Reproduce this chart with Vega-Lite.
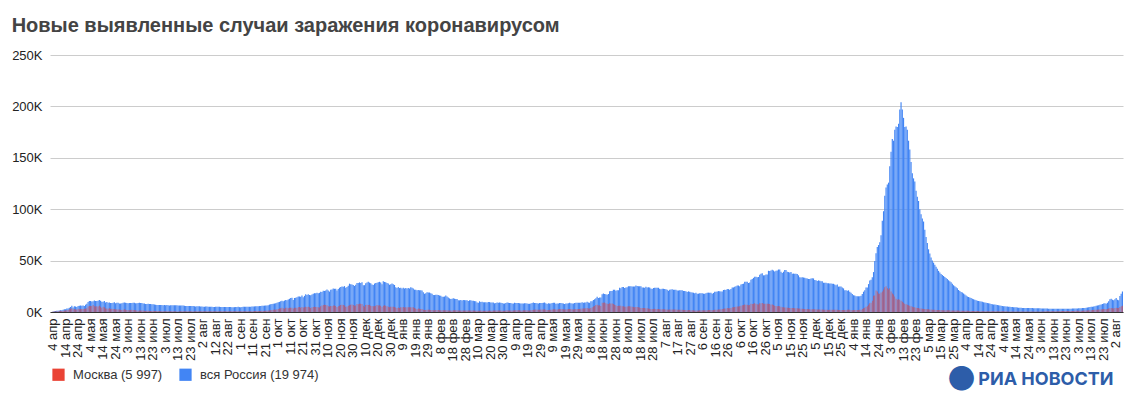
{
  "$schema": "https://vega.github.io/schema/vega-lite/v6.json",
  "width": 1073,
  "height": 257,
  "autosize": {"type": "none"},
  "padding": {"left": 50, "top": 55, "right": 21, "bottom": 93},
  "background": "white",
  "title": {
    "text": "Новые выявленные случаи заражения коронавирусом",
    "anchor": "start",
    "frame": "bounds",
    "offset": 13,
    "font": "Liberation Sans",
    "fontSize": 20,
    "fontWeight": "bold",
    "color": "#444444"
  },
  "data": {"values": [
{"d":"2020-04-04","r":582,"m":434},{"d":"2020-04-05","r":658,"m":387},{"d":"2020-04-06","r":954,"m":591},{"d":"2020-04-07","r":1154,"m":697},{"d":"2020-04-08","r":1175,"m":660},{"d":"2020-04-09","r":1459,"m":857},{"d":"2020-04-10","r":1786,"m":1124},{"d":"2020-04-11","r":1667,"m":1030},{"d":"2020-04-12","r":2186,"m":1306},{"d":"2020-04-13","r":2558,"m":1355},
{"d":"2020-04-14","r":2774,"m":1489},{"d":"2020-04-15","r":3388,"m":1774},{"d":"2020-04-16","r":3448,"m":1959},{"d":"2020-04-17","r":4070,"m":2649},{"d":"2020-04-18","r":4785,"m":3083},{"d":"2020-04-19","r":6060,"m":3570},{"d":"2020-04-20","r":4268,"m":2649},{"d":"2020-04-21","r":5642,"m":2957},{"d":"2020-04-22","r":5236,"m":2502},{"d":"2020-04-23","r":4774,"m":2548},
{"d":"2020-04-24","r":5849,"m":3083},{"d":"2020-04-25","r":5966,"m":2612},{"d":"2020-04-26","r":6361,"m":2860},{"d":"2020-04-27","r":6198,"m":2871},{"d":"2020-04-28","r":6411,"m":2954},{"d":"2020-04-29","r":5841,"m":3040},{"d":"2020-04-30","r":7099,"m":3239},
{"d":"2020-05-01","r":7933,"m":3561},{"d":"2020-05-02","r":9623,"m":5358},{"d":"2020-05-03","r":10633,"m":5948},{"d":"2020-05-04","r":10581,"m":5795},{"d":"2020-05-05","r":10102,"m":5858},{"d":"2020-05-06","r":10559,"m":6703},{"d":"2020-05-07","r":11231,"m":5663},{"d":"2020-05-08","r":10699,"m":5392},{"d":"2020-05-09","r":10817,"m":5667},{"d":"2020-05-10","r":11012,"m":5392},
{"d":"2020-05-11","r":11656,"m":6169},{"d":"2020-05-12","r":10899,"m":5200},{"d":"2020-05-13","r":10028,"m":4035},{"d":"2020-05-14","r":9974,"m":5167},{"d":"2020-05-15","r":10598,"m":4500},{"d":"2020-05-16","r":9200,"m":3500},{"d":"2020-05-17","r":9709,"m":3505},{"d":"2020-05-18","r":8926,"m":3238},{"d":"2020-05-19","r":9263,"m":3560},{"d":"2020-05-20","r":8764,"m":2913},
{"d":"2020-05-21","r":8849,"m":3074},{"d":"2020-05-22","r":8894,"m":2964},{"d":"2020-05-23","r":9434,"m":2988},{"d":"2020-05-24","r":8599,"m":2516},{"d":"2020-05-25","r":8946,"m":2567},{"d":"2020-05-26","r":8915,"m":2500},{"d":"2020-05-27","r":8338,"m":2330},{"d":"2020-05-28","r":8371,"m":2297},{"d":"2020-05-29","r":8572,"m":2054},{"d":"2020-05-30","r":8952,"m":2274},{"d":"2020-05-31","r":9268,"m":2595},
{"d":"2020-06-01","r":9035,"m":2286},{"d":"2020-06-02","r":8863,"m":1991},{"d":"2020-06-03","r":8536,"m":1842},{"d":"2020-06-04","r":8831,"m":1815},{"d":"2020-06-05","r":8726,"m":1979},{"d":"2020-06-06","r":8855,"m":2069},{"d":"2020-06-07","r":8984,"m":2000},{"d":"2020-06-08","r":8985,"m":1951},{"d":"2020-06-09","r":8595,"m":1700},{"d":"2020-06-10","r":8404,"m":1572},
{"d":"2020-06-11","r":8779,"m":1195},{"d":"2020-06-12","r":8987,"m":1486},{"d":"2020-06-13","r":8706,"m":1549},{"d":"2020-06-14","r":8835,"m":1545},{"d":"2020-06-15","r":8246,"m":1359},{"d":"2020-06-16","r":8248,"m":1104},{"d":"2020-06-17","r":7843,"m":1073},{"d":"2020-06-18","r":7790,"m":1154},{"d":"2020-06-19","r":7972,"m":1095},{"d":"2020-06-20","r":7889,"m":1070},
{"d":"2020-06-21","r":7728,"m":1057},{"d":"2020-06-22","r":7600,"m":1063},{"d":"2020-06-23","r":7425,"m":1194},{"d":"2020-06-24","r":7176,"m":1086},{"d":"2020-06-25","r":7113,"m":1083},{"d":"2020-06-26","r":6800,"m":1000},{"d":"2020-06-27","r":6852,"m":1000},{"d":"2020-06-28","r":6791,"m":932},{"d":"2020-06-29","r":6719,"m":814},{"d":"2020-06-30","r":6693,"m":693},
{"d":"2020-07-01","r":6556,"m":672},{"d":"2020-07-02","r":6760,"m":659},{"d":"2020-07-03","r":6632,"m":672},{"d":"2020-07-04","r":6736,"m":660},{"d":"2020-07-05","r":6611,"m":655},{"d":"2020-07-06","r":6368,"m":679},{"d":"2020-07-07","r":6562,"m":662},{"d":"2020-07-08","r":6509,"m":645},{"d":"2020-07-09","r":6635,"m":666},{"d":"2020-07-10","r":6611,"m":651},
{"d":"2020-07-11","r":6615,"m":626},{"d":"2020-07-12","r":6537,"m":606},{"d":"2020-07-13","r":6248,"m":595},{"d":"2020-07-14","r":6422,"m":625},{"d":"2020-07-15","r":6428,"m":636},{"d":"2020-07-16","r":6406,"m":642},{"d":"2020-07-17","r":6234,"m":656},{"d":"2020-07-18","r":6109,"m":648},{"d":"2020-07-19","r":5940,"m":637},{"d":"2020-07-20","r":5842,"m":648},
{"d":"2020-07-21","r":5862,"m":648},{"d":"2020-07-22","r":5848,"m":676},{"d":"2020-07-23","r":5811,"m":642},{"d":"2020-07-24","r":5871,"m":656},{"d":"2020-07-25","r":5765,"m":587},{"d":"2020-07-26","r":5635,"m":641},{"d":"2020-07-27","r":5395,"m":623},{"d":"2020-07-28","r":5475,"m":626},{"d":"2020-07-29","r":5509,"m":625},{"d":"2020-07-30","r":5482,"m":651},{"d":"2020-07-31","r":5462,"m":690},
{"d":"2020-08-01","r":5427,"m":655},{"d":"2020-08-02","r":5159,"m":669},{"d":"2020-08-03","r":5204,"m":692},{"d":"2020-08-04","r":5241,"m":688},{"d":"2020-08-05","r":5267,"m":664},{"d":"2020-08-06","r":5212,"m":697},{"d":"2020-08-07","r":5189,"m":697},{"d":"2020-08-08","r":5118,"m":686},{"d":"2020-08-09","r":5010,"m":681},{"d":"2020-08-10","r":4945,"m":677},
{"d":"2020-08-11","r":4892,"m":657},{"d":"2020-08-12","r":5102,"m":670},{"d":"2020-08-13","r":5065,"m":691},{"d":"2020-08-14","r":5083,"m":690},{"d":"2020-08-15","r":5061,"m":685},{"d":"2020-08-16","r":4969,"m":682},{"d":"2020-08-17","r":4839,"m":662},{"d":"2020-08-18","r":4748,"m":659},{"d":"2020-08-19","r":4828,"m":665},{"d":"2020-08-20","r":4767,"m":657},
{"d":"2020-08-21","r":4870,"m":683},{"d":"2020-08-22","r":4921,"m":681},{"d":"2020-08-23","r":4852,"m":679},{"d":"2020-08-24","r":4744,"m":668},{"d":"2020-08-25","r":4676,"m":661},{"d":"2020-08-26","r":4696,"m":675},{"d":"2020-08-27","r":4711,"m":666},{"d":"2020-08-28","r":4829,"m":647},{"d":"2020-08-29","r":4980,"m":650},{"d":"2020-08-30","r":4993,"m":648},{"d":"2020-08-31","r":4729,"m":648},
{"d":"2020-09-01","r":4729,"m":647},{"d":"2020-09-02","r":4952,"m":717},{"d":"2020-09-03","r":4995,"m":708},{"d":"2020-09-04","r":5110,"m":762},{"d":"2020-09-05","r":5205,"m":782},{"d":"2020-09-06","r":5195,"m":814},{"d":"2020-09-07","r":5185,"m":850},{"d":"2020-09-08","r":5099,"m":750},{"d":"2020-09-09","r":5218,"m":801},{"d":"2020-09-10","r":5363,"m":800},
{"d":"2020-09-11","r":5406,"m":824},{"d":"2020-09-12","r":5449,"m":860},{"d":"2020-09-13","r":5509,"m":880},{"d":"2020-09-14","r":5529,"m":892},{"d":"2020-09-15","r":5670,"m":943},{"d":"2020-09-16","r":5762,"m":1050},{"d":"2020-09-17","r":5905,"m":1050},{"d":"2020-09-18","r":6065,"m":1095},{"d":"2020-09-19","r":6148,"m":1056},{"d":"2020-09-20","r":6196,"m":1100},
{"d":"2020-09-21","r":6215,"m":1200},{"d":"2020-09-22","r":6431,"m":1300},{"d":"2020-09-23","r":6595,"m":1400},{"d":"2020-09-24","r":7212,"m":1560},{"d":"2020-09-25","r":7523,"m":1792},{"d":"2020-09-26","r":7867,"m":2016},{"d":"2020-09-27","r":8135,"m":2217},{"d":"2020-09-28","r":8232,"m":2424},{"d":"2020-09-29","r":8481,"m":2304},{"d":"2020-09-30","r":8945,"m":2704},
{"d":"2020-10-01","r":9412,"m":2884},{"d":"2020-10-02","r":9859,"m":3327},{"d":"2020-10-03","r":10499,"m":3537},{"d":"2020-10-04","r":10888,"m":4082},{"d":"2020-10-05","r":10499,"m":3537},{"d":"2020-10-06","r":11115,"m":3229},{"d":"2020-10-07","r":11615,"m":4087},{"d":"2020-10-08","r":11493,"m":4082},{"d":"2020-10-09","r":12126,"m":3548},{"d":"2020-10-10","r":12846,"m":4127},
{"d":"2020-10-11","r":13634,"m":4212},{"d":"2020-10-12","r":13868,"m":4203},{"d":"2020-10-13","r":11655,"m":3312},{"d":"2020-10-14","r":13592,"m":4103},{"d":"2020-10-15","r":13754,"m":4056},{"d":"2020-10-16","r":14231,"m":4238},{"d":"2020-10-17","r":15150,"m":4617},{"d":"2020-10-18","r":15099,"m":4782},{"d":"2020-10-19","r":14922,"m":4122},{"d":"2020-10-20","r":15982,"m":4922},
{"d":"2020-10-21","r":14321,"m":4389},{"d":"2020-10-22","r":15700,"m":4635},{"d":"2020-10-23","r":17340,"m":5224},{"d":"2020-10-24","r":16521,"m":4849},{"d":"2020-10-25","r":17347,"m":5224},{"d":"2020-10-26","r":16550,"m":4500},{"d":"2020-10-27","r":16202,"m":4000},{"d":"2020-10-28","r":17121,"m":4556},{"d":"2020-10-29","r":17717,"m":4776},{"d":"2020-10-30","r":18283,"m":5224},{"d":"2020-10-31","r":18140,"m":4952},
{"d":"2020-11-01","r":18665,"m":4882},{"d":"2020-11-02","r":18257,"m":4524},{"d":"2020-11-03","r":18648,"m":4453},{"d":"2020-11-04","r":19768,"m":5475},{"d":"2020-11-05","r":19404,"m":6253},{"d":"2020-11-06","r":20582,"m":6718},{"d":"2020-11-07","r":20498,"m":6953},{"d":"2020-11-08","r":20977,"m":6897},{"d":"2020-11-09","r":21798,"m":6499},{"d":"2020-11-10","r":20977,"m":5616},
{"d":"2020-11-11","r":19851,"m":5254},{"d":"2020-11-12","r":21608,"m":5882},{"d":"2020-11-13","r":21983,"m":5902},{"d":"2020-11-14","r":22778,"m":6405},{"d":"2020-11-15","r":22572,"m":6438},{"d":"2020-11-16","r":22702,"m":5804},{"d":"2020-11-17","r":20977,"m":4874},{"d":"2020-11-18","r":22410,"m":5478},{"d":"2020-11-19","r":23610,"m":6076},{"d":"2020-11-20","r":24318,"m":6902},
{"d":"2020-11-21","r":24822,"m":7168},{"d":"2020-11-22","r":24581,"m":6866},{"d":"2020-11-23","r":25173,"m":6368},{"d":"2020-11-24","r":23675,"m":4990},{"d":"2020-11-25","r":24326,"m":5233},{"d":"2020-11-26","r":25487,"m":6081},{"d":"2020-11-27","r":27543,"m":6502},{"d":"2020-11-28","r":27100,"m":6950},{"d":"2020-11-29","r":26683,"m":7317},{"d":"2020-11-30","r":26338,"m":6855},
{"d":"2020-12-01","r":25345,"m":5999},{"d":"2020-12-02","r":26402,"m":6405},{"d":"2020-12-03","r":28145,"m":7750},{"d":"2020-12-04","r":28209,"m":7486},{"d":"2020-12-05","r":28782,"m":7993},{"d":"2020-12-06","r":28137,"m":7993},{"d":"2020-12-07","r":29039,"m":7750},{"d":"2020-12-08","r":26097,"m":5977},{"d":"2020-12-09","r":26097,"m":5000},{"d":"2020-12-10","r":27927,"m":6759},
{"d":"2020-12-11","r":28585,"m":7040},{"d":"2020-12-12","r":29350,"m":6800},{"d":"2020-12-13","r":28585,"m":7040},{"d":"2020-12-14","r":28080,"m":6000},{"d":"2020-12-15","r":26689,"m":5725},{"d":"2020-12-16","r":26190,"m":5550},{"d":"2020-12-17","r":27656,"m":5700},{"d":"2020-12-18","r":28214,"m":6200},{"d":"2020-12-19","r":28552,"m":6800},{"d":"2020-12-20","r":28948,"m":6426},
{"d":"2020-12-21","r":29350,"m":6600},{"d":"2020-12-22","r":28776,"m":6000},{"d":"2020-12-23","r":27040,"m":5000},{"d":"2020-12-24","r":29935,"m":6000},{"d":"2020-12-25","r":29258,"m":6459},{"d":"2020-12-26","r":29018,"m":6000},{"d":"2020-12-27","r":28284,"m":5700},{"d":"2020-12-28","r":27787,"m":5000},{"d":"2020-12-29","r":26513,"m":4700},{"d":"2020-12-30","r":27039,"m":5200},{"d":"2020-12-31","r":27747,"m":5085},
{"d":"2021-01-01","r":27039,"m":5100},{"d":"2021-01-02","r":26301,"m":4900},{"d":"2021-01-03","r":24150,"m":4300},{"d":"2021-01-04","r":23351,"m":4000},{"d":"2021-01-05","r":24246,"m":4400},{"d":"2021-01-06","r":23309,"m":4000},{"d":"2021-01-07","r":23541,"m":4500},{"d":"2021-01-08","r":22851,"m":4500},{"d":"2021-01-09","r":23652,"m":4800},{"d":"2021-01-10","r":22851,"m":4444},
{"d":"2021-01-11","r":23315,"m":4700},{"d":"2021-01-12","r":22934,"m":4500},{"d":"2021-01-13","r":23360,"m":4600},{"d":"2021-01-14","r":22851,"m":4500},{"d":"2021-01-15","r":24092,"m":4667},{"d":"2021-01-16","r":23652,"m":4700},{"d":"2021-01-17","r":22857,"m":4500},{"d":"2021-01-18","r":21734,"m":3900},{"d":"2021-01-19","r":21677,"m":3500},{"d":"2021-01-20","r":21152,"m":2948},
{"d":"2021-01-21","r":21513,"m":3300},{"d":"2021-01-22","r":21127,"m":3050},{"d":"2021-01-23","r":21262,"m":3000},{"d":"2021-01-24","r":20921,"m":2900},{"d":"2021-01-25","r":19290,"m":2200},{"d":"2021-01-26","r":17741,"m":1841},{"d":"2021-01-27","r":18241,"m":2050},{"d":"2021-01-28","r":19138,"m":2200},{"d":"2021-01-29","r":19032,"m":2150},{"d":"2021-01-30","r":18935,"m":2100},{"d":"2021-01-31","r":18359,"m":2029},
{"d":"2021-02-01","r":17648,"m":1900},{"d":"2021-02-02","r":16643,"m":1700},{"d":"2021-02-03","r":16474,"m":1800},{"d":"2021-02-04","r":16688,"m":1900},{"d":"2021-02-05","r":16714,"m":1906},{"d":"2021-02-06","r":16627,"m":1900},{"d":"2021-02-07","r":16048,"m":1800},{"d":"2021-02-08","r":15916,"m":1700},{"d":"2021-02-09","r":14928,"m":1600},{"d":"2021-02-10","r":14861,"m":1736},
{"d":"2021-02-11","r":15038,"m":1700},{"d":"2021-02-12","r":16034,"m":1800},{"d":"2021-02-13","r":15144,"m":1700},{"d":"2021-02-14","r":14185,"m":1500},{"d":"2021-02-15","r":13233,"m":1442},{"d":"2021-02-16","r":12742,"m":1400},{"d":"2021-02-17","r":12828,"m":1500},{"d":"2021-02-18","r":13447,"m":1600},{"d":"2021-02-19","r":12953,"m":1700},{"d":"2021-02-20","r":12742,"m":1729},
{"d":"2021-02-21","r":12604,"m":1650},{"d":"2021-02-22","r":11534,"m":1500},{"d":"2021-02-23","r":11359,"m":1400},{"d":"2021-02-24","r":11749,"m":1500},{"d":"2021-02-25","r":11198,"m":1545},{"d":"2021-02-26","r":11571,"m":1550},{"d":"2021-02-27","r":11534,"m":1560},{"d":"2021-02-28","r":11534,"m":1562},
{"d":"2021-03-01","r":11359,"m":1500},{"d":"2021-03-02","r":10595,"m":1400},{"d":"2021-03-03","r":11385,"m":1500},{"d":"2021-03-04","r":11385,"m":1550},{"d":"2021-03-05","r":11024,"m":1540},{"d":"2021-03-06","r":10824,"m":1500},{"d":"2021-03-07","r":10595,"m":1400},{"d":"2021-03-08","r":10565,"m":1300},{"d":"2021-03-09","r":9270,"m":1250},{"d":"2021-03-10","r":9079,"m":1294},
{"d":"2021-03-11","r":10393,"m":1300},{"d":"2021-03-12","r":9800,"m":1350},{"d":"2021-03-13","r":9900,"m":1300},{"d":"2021-03-14","r":9433,"m":1200},{"d":"2021-03-15","r":9445,"m":1163},{"d":"2021-03-16","r":9437,"m":1200},{"d":"2021-03-17","r":9149,"m":1250},{"d":"2021-03-18","r":9634,"m":1300},{"d":"2021-03-19","r":9632,"m":1350},{"d":"2021-03-20","r":9299,"m":1318},
{"d":"2021-03-21","r":9284,"m":1300},{"d":"2021-03-22","r":9195,"m":1350},{"d":"2021-03-23","r":8457,"m":1400},{"d":"2021-03-24","r":8769,"m":1450},{"d":"2021-03-25","r":9128,"m":1456},{"d":"2021-03-26","r":9073,"m":1450},{"d":"2021-03-27","r":9167,"m":1450},{"d":"2021-03-28","r":8885,"m":1400},{"d":"2021-03-29","r":8711,"m":1300},{"d":"2021-03-30","r":8277,"m":1250},{"d":"2021-03-31","r":8162,"m":1254},
{"d":"2021-04-01","r":8672,"m":1500},{"d":"2021-04-02","r":9167,"m":1600},{"d":"2021-04-03","r":8885,"m":1550},{"d":"2021-04-04","r":8711,"m":1500},{"d":"2021-04-05","r":8646,"m":1578},{"d":"2021-04-06","r":8294,"m":1500},{"d":"2021-04-07","r":8328,"m":1550},{"d":"2021-04-08","r":8996,"m":1700},{"d":"2021-04-09","r":8806,"m":1750},{"d":"2021-04-10","r":8702,"m":1736},
{"d":"2021-04-11","r":8702,"m":1700},{"d":"2021-04-12","r":8589,"m":1650},{"d":"2021-04-13","r":8173,"m":1500},{"d":"2021-04-14","r":8272,"m":1550},{"d":"2021-04-15","r":8173,"m":1597},{"d":"2021-04-16","r":8633,"m":1650},{"d":"2021-04-17","r":8632,"m":1700},{"d":"2021-04-18","r":8328,"m":1600},{"d":"2021-04-19","r":8053,"m":1500},{"d":"2021-04-20","r":8053,"m":1523},
{"d":"2021-04-21","r":8271,"m":1800},{"d":"2021-04-22","r":8780,"m":2000},{"d":"2021-04-23","r":9270,"m":2300},{"d":"2021-04-24","r":8800,"m":2300},{"d":"2021-04-25","r":8803,"m":2323},{"d":"2021-04-26","r":8419,"m":2200},{"d":"2021-04-27","r":8271,"m":2100},{"d":"2021-04-28","r":8780,"m":2300},{"d":"2021-04-29","r":8697,"m":2400},{"d":"2021-04-30","r":8697,"m":2412},
{"d":"2021-05-01","r":8995,"m":2500},{"d":"2021-05-02","r":9270,"m":2600},{"d":"2021-05-03","r":8419,"m":2200},{"d":"2021-05-04","r":7770,"m":1900},{"d":"2021-05-05","r":8419,"m":2051},{"d":"2021-05-06","r":8307,"m":2100},{"d":"2021-05-07","r":8328,"m":2200},{"d":"2021-05-08","r":8790,"m":2500},{"d":"2021-05-09","r":9000,"m":2600},{"d":"2021-05-10","r":8926,"m":2717},
{"d":"2021-05-11","r":7975,"m":2400},{"d":"2021-05-12","r":8217,"m":2500},{"d":"2021-05-13","r":8380,"m":2600},{"d":"2021-05-14","r":8709,"m":2800},{"d":"2021-05-15","r":8709,"m":2897},{"d":"2021-05-16","r":8554,"m":2900},{"d":"2021-05-17","r":8183,"m":2700},{"d":"2021-05-18","r":7704,"m":2500},{"d":"2021-05-19","r":8217,"m":2600},{"d":"2021-05-20","r":8217,"m":2726},
{"d":"2021-05-21","r":8407,"m":2800},{"d":"2021-05-22","r":8951,"m":2900},{"d":"2021-05-23","r":8632,"m":2800},{"d":"2021-05-24","r":8373,"m":2600},{"d":"2021-05-25","r":8373,"m":2549},{"d":"2021-05-26","r":8780,"m":2700},{"d":"2021-05-27","r":8947,"m":2800},{"d":"2021-05-28","r":9022,"m":2900},{"d":"2021-05-29","r":8980,"m":2900},{"d":"2021-05-30","r":9035,"m":3000},{"d":"2021-05-31","r":9035,"m":3205},
{"d":"2021-06-01","r":9371,"m":3400},{"d":"2021-06-02","r":9036,"m":3300},{"d":"2021-06-03","r":9252,"m":3400},{"d":"2021-06-04","r":9289,"m":3700},{"d":"2021-06-05","r":9924,"m":3800},{"d":"2021-06-06","r":9200,"m":3500},{"d":"2021-06-07","r":8949,"m":3400},{"d":"2021-06-08","r":10407,"m":3800},{"d":"2021-06-09","r":10407,"m":4500},{"d":"2021-06-10","r":11699,"m":5255},
{"d":"2021-06-11","r":12505,"m":5792},{"d":"2021-06-12","r":13397,"m":6701},{"d":"2021-06-13","r":14723,"m":7140},{"d":"2021-06-14","r":13721,"m":6206},{"d":"2021-06-15","r":14185,"m":6534},{"d":"2021-06-16","r":14057,"m":5782},{"d":"2021-06-17","r":17262,"m":8965},{"d":"2021-06-18","r":17906,"m":9056},{"d":"2021-06-19","r":17611,"m":9120},{"d":"2021-06-20","r":17378,"m":8403},
{"d":"2021-06-21","r":16715,"m":7917},{"d":"2021-06-22","r":17594,"m":7719},{"d":"2021-06-23","r":20182,"m":8427},{"d":"2021-06-24","r":20393,"m":8365},{"d":"2021-06-25","r":20538,"m":8227},{"d":"2021-06-26","r":21665,"m":7730},{"d":"2021-06-27","r":21650,"m":6935},{"d":"2021-06-28","r":20616,"m":6534},{"d":"2021-06-29","r":21042,"m":5911},{"d":"2021-06-30","r":21042,"m":6000},
{"d":"2021-07-01","r":23543,"m":6100},{"d":"2021-07-02","r":23218,"m":6100},{"d":"2021-07-03","r":24439,"m":5700},{"d":"2021-07-04","r":24353,"m":5600},{"d":"2021-07-05","r":23378,"m":5200},{"d":"2021-07-06","r":23778,"m":5200},{"d":"2021-07-07","r":23962,"m":5400},{"d":"2021-07-08","r":25082,"m":5600},{"d":"2021-07-09","r":25142,"m":5500},{"d":"2021-07-10","r":25033,"m":5292},
{"d":"2021-07-11","r":24702,"m":5000},{"d":"2021-07-12","r":24702,"m":4800},{"d":"2021-07-13","r":24702,"m":4600},{"d":"2021-07-14","r":25766,"m":4800},{"d":"2021-07-15","r":25293,"m":4781},{"d":"2021-07-16","r":25018,"m":4500},{"d":"2021-07-17","r":25108,"m":4300},{"d":"2021-07-18","r":24933,"m":4000},{"d":"2021-07-19","r":23811,"m":3800},{"d":"2021-07-20","r":23811,"m":3852},
{"d":"2021-07-21","r":23704,"m":3800},{"d":"2021-07-22","r":24471,"m":3700},{"d":"2021-07-23","r":23947,"m":3600},{"d":"2021-07-24","r":24072,"m":3400},{"d":"2021-07-25","r":23947,"m":3215},{"d":"2021-07-26","r":22804,"m":3000},{"d":"2021-07-27","r":22420,"m":2900},{"d":"2021-07-28","r":23270,"m":3000},{"d":"2021-07-29","r":23564,"m":3100},{"d":"2021-07-30","r":23564,"m":3000},{"d":"2021-07-31","r":23564,"m":3002},
{"d":"2021-08-01","r":23508,"m":2900},{"d":"2021-08-02","r":22589,"m":2700},{"d":"2021-08-03","r":22239,"m":2600},{"d":"2021-08-04","r":22589,"m":2700},{"d":"2021-08-05","r":22589,"m":2666},{"d":"2021-08-06","r":22277,"m":2600},{"d":"2021-08-07","r":22144,"m":2500},{"d":"2021-08-08","r":21624,"m":2400},{"d":"2021-08-09","r":20765,"m":2300},{"d":"2021-08-10","r":21571,"m":2313},
{"d":"2021-08-11","r":21932,"m":2400},{"d":"2021-08-12","r":22073,"m":2400},{"d":"2021-08-13","r":21624,"m":2400},{"d":"2021-08-14","r":21624,"m":2400},{"d":"2021-08-15","r":21624,"m":2402},{"d":"2021-08-16","r":20992,"m":2200},{"d":"2021-08-17","r":20914,"m":2100},{"d":"2021-08-18","r":21058,"m":2200},{"d":"2021-08-19","r":21058,"m":2150},{"d":"2021-08-20","r":21058,"m":2148},
{"d":"2021-08-21","r":20493,"m":2050},{"d":"2021-08-22","r":20493,"m":2000},{"d":"2021-08-23","r":20084,"m":1900},{"d":"2021-08-24","r":19509,"m":1800},{"d":"2021-08-25","r":20084,"m":1947},{"d":"2021-08-26","r":19630,"m":1900},{"d":"2021-08-27","r":19286,"m":1800},{"d":"2021-08-28","r":18856,"m":1700},{"d":"2021-08-29","r":18780,"m":1650},{"d":"2021-08-30","r":18325,"m":1550},{"d":"2021-08-31","r":18780,"m":1543},
{"d":"2021-09-01","r":17813,"m":1500},{"d":"2021-09-02","r":17856,"m":1550},{"d":"2021-09-03","r":18341,"m":1650},{"d":"2021-09-04","r":18341,"m":1700},{"d":"2021-09-05","r":18341,"m":1751},{"d":"2021-09-06","r":17856,"m":1650},{"d":"2021-09-07","r":17813,"m":1600},{"d":"2021-09-08","r":18191,"m":1700},{"d":"2021-09-09","r":18645,"m":1800},{"d":"2021-09-10","r":18841,"m":1878},
{"d":"2021-09-11","r":18841,"m":1900},{"d":"2021-09-12","r":18841,"m":1900},{"d":"2021-09-13","r":17837,"m":1800},{"d":"2021-09-14","r":18554,"m":1950},{"d":"2021-09-15","r":19594,"m":2111},{"d":"2021-09-16","r":19706,"m":2200},{"d":"2021-09-17","r":19905,"m":2300},{"d":"2021-09-18","r":20329,"m":2400},{"d":"2021-09-19","r":20174,"m":2500},{"d":"2021-09-20","r":19966,"m":2584},
{"d":"2021-09-21","r":19960,"m":2800},{"d":"2021-09-22","r":21379,"m":3200},{"d":"2021-09-23","r":21559,"m":3300},{"d":"2021-09-24","r":21438,"m":3500},{"d":"2021-09-25","r":22430,"m":3775},{"d":"2021-09-26","r":22236,"m":3600},{"d":"2021-09-27","r":21650,"m":3600},{"d":"2021-09-28","r":22430,"m":4000},{"d":"2021-09-29","r":23888,"m":4500},{"d":"2021-09-30","r":23888,"m":4590},
{"d":"2021-10-01","r":24522,"m":4900},{"d":"2021-10-02","r":25110,"m":5100},{"d":"2021-10-03","r":25781,"m":5300},{"d":"2021-10-04","r":25781,"m":5400},{"d":"2021-10-05","r":25133,"m":5473},{"d":"2021-10-06","r":26828,"m":6000},{"d":"2021-10-07","r":27246,"m":6500},{"d":"2021-10-08","r":27550,"m":6900},{"d":"2021-10-09","r":29362,"m":7300},{"d":"2021-10-10","r":29409,"m":7042},
{"d":"2021-10-11","r":29409,"m":7000},{"d":"2021-10-12","r":28190,"m":6500},{"d":"2021-10-13","r":28717,"m":6900},{"d":"2021-10-14","r":31299,"m":8000},{"d":"2021-10-15","r":32196,"m":7900},{"d":"2021-10-16","r":33208,"m":8000},{"d":"2021-10-17","r":34303,"m":8500},{"d":"2021-10-18","r":34325,"m":8000},{"d":"2021-10-19","r":33740,"m":7500},{"d":"2021-10-20","r":34073,"m":7225},
{"d":"2021-10-21","r":36339,"m":8400},{"d":"2021-10-22","r":37141,"m":8600},{"d":"2021-10-23","r":37678,"m":8700},{"d":"2021-10-24","r":35660,"m":8100},{"d":"2021-10-25","r":35660,"m":8117},{"d":"2021-10-26","r":36582,"m":8000},{"d":"2021-10-27","r":36446,"m":8000},{"d":"2021-10-28","r":40096,"m":8100},{"d":"2021-10-29","r":39849,"m":7900},{"d":"2021-10-30","r":40251,"m":7200},{"d":"2021-10-31","r":40993,"m":7209},
{"d":"2021-11-01","r":40402,"m":6700},{"d":"2021-11-02","r":39400,"m":6200},{"d":"2021-11-03","r":40217,"m":5800},{"d":"2021-11-04","r":40443,"m":5700},{"d":"2021-11-05","r":41335,"m":5753},{"d":"2021-11-06","r":41335,"m":5500},{"d":"2021-11-07","r":39165,"m":5000},{"d":"2021-11-08","r":38058,"m":4700},{"d":"2021-11-09","r":39160,"m":4500},{"d":"2021-11-10","r":40759,"m":4391},
{"d":"2021-11-11","r":40759,"m":4400},{"d":"2021-11-12","r":39256,"m":4200},{"d":"2021-11-13","r":38823,"m":4100},{"d":"2021-11-14","r":38420,"m":4000},{"d":"2021-11-15","r":38823,"m":3940},{"d":"2021-11-16","r":37120,"m":3800},{"d":"2021-11-17","r":37374,"m":3800},{"d":"2021-11-18","r":37156,"m":3750},{"d":"2021-11-19","r":37120,"m":3700},{"d":"2021-11-20","r":36970,"m":3648},
{"d":"2021-11-21","r":35681,"m":3500},{"d":"2021-11-22","r":33860,"m":3300},{"d":"2021-11-23","r":33558,"m":3200},{"d":"2021-11-24","r":33796,"m":3100},{"d":"2021-11-25","r":33558,"m":2992},{"d":"2021-11-26","r":33389,"m":2950},{"d":"2021-11-27","r":32930,"m":2900},{"d":"2021-11-28","r":32648,"m":2800},{"d":"2021-11-29","r":32136,"m":2700},{"d":"2021-11-30","r":32136,"m":2667},
{"d":"2021-12-01","r":32602,"m":2700},{"d":"2021-12-02","r":32930,"m":2750},{"d":"2021-12-03","r":32648,"m":2700},{"d":"2021-12-04","r":31096,"m":2650},{"d":"2021-12-05","r":30950,"m":2623},{"d":"2021-12-06","r":30209,"m":2500},{"d":"2021-12-07","r":30752,"m":2500},{"d":"2021-12-08","r":30288,"m":2450},{"d":"2021-12-09","r":29929,"m":2400},{"d":"2021-12-10","r":29929,"m":2328},
{"d":"2021-12-11","r":28486,"m":2300},{"d":"2021-12-12","r":28486,"m":2300},{"d":"2021-12-13","r":28363,"m":2200},{"d":"2021-12-14","r":27967,"m":2100},{"d":"2021-12-15","r":27967,"m":2061},{"d":"2021-12-16","r":27743,"m":2100},{"d":"2021-12-17","r":27743,"m":2150},{"d":"2021-12-18","r":27523,"m":2200},{"d":"2021-12-19","r":27434,"m":2200},{"d":"2021-12-20","r":26689,"m":2167},
{"d":"2021-12-21","r":25908,"m":2100},{"d":"2021-12-22","r":26689,"m":2100},{"d":"2021-12-23","r":24703,"m":2000},{"d":"2021-12-24","r":24703,"m":1950},{"d":"2021-12-25","r":24703,"m":1943},{"d":"2021-12-26","r":23820,"m":1950},{"d":"2021-12-27","r":22972,"m":1900},{"d":"2021-12-28","r":21073,"m":1900},{"d":"2021-12-29","r":21073,"m":2000},{"d":"2021-12-30","r":20669,"m":2200},{"d":"2021-12-31","r":21073,"m":2283},
{"d":"2022-01-01","r":19751,"m":2200},{"d":"2022-01-02","r":18659,"m":1900},{"d":"2022-01-03","r":17525,"m":1800},{"d":"2022-01-04","r":16337,"m":1900},{"d":"2022-01-05","r":15958,"m":1974},{"d":"2022-01-06","r":15380,"m":2000},{"d":"2022-01-07","r":15316,"m":2000},{"d":"2022-01-08","r":15272,"m":2050},{"d":"2022-01-09","r":15225,"m":2100},{"d":"2022-01-10","r":15830,"m":2164},
{"d":"2022-01-11","r":17525,"m":2800},{"d":"2022-01-12","r":19751,"m":3600},{"d":"2022-01-13","r":21073,"m":4200},{"d":"2022-01-14","r":23820,"m":5000},{"d":"2022-01-15","r":23820,"m":5584},{"d":"2022-01-16","r":27134,"m":7000},{"d":"2022-01-17","r":30726,"m":8500},{"d":"2022-01-18","r":31252,"m":9000},{"d":"2022-01-19","r":33899,"m":11000},{"d":"2022-01-20","r":38850,"m":15906},
{"d":"2022-01-21","r":49513,"m":16000},{"d":"2022-01-22","r":57212,"m":21000},{"d":"2022-01-23","r":63205,"m":20000},{"d":"2022-01-24","r":65109,"m":18000},{"d":"2022-01-25","r":67809,"m":17826},{"d":"2022-01-26","r":74692,"m":19000},{"d":"2022-01-27","r":88816,"m":20000},{"d":"2022-01-28","r":98040,"m":22000},{"d":"2022-01-29","r":113122,"m":24000},{"d":"2022-01-30","r":121228,"m":25000},{"d":"2022-01-31","r":124070,"m":23000},
{"d":"2022-02-01","r":125836,"m":22000},{"d":"2022-02-02","r":141883,"m":23000},{"d":"2022-02-03","r":155768,"m":20000},{"d":"2022-02-04","r":168201,"m":18000},{"d":"2022-02-05","r":166631,"m":17000},{"d":"2022-02-06","r":177282,"m":15000},{"d":"2022-02-07","r":180456,"m":13000},{"d":"2022-02-08","r":180071,"m":12000},{"d":"2022-02-09","r":183103,"m":12500},{"d":"2022-02-10","r":197076,"m":12000},
{"d":"2022-02-11","r":203949,"m":11000},{"d":"2022-02-12","r":197081,"m":10000},{"d":"2022-02-13","r":188858,"m":9000},{"d":"2022-02-14","r":180071,"m":8000},{"d":"2022-02-15","r":180456,"m":7500},{"d":"2022-02-16","r":177282,"m":7000},{"d":"2022-02-17","r":166631,"m":6500},{"d":"2022-02-18","r":158000,"m":6000},{"d":"2022-02-19","r":146000,"m":5500},{"d":"2022-02-20","r":135000,"m":5000},
{"d":"2022-02-21","r":130000,"m":4700},{"d":"2022-02-22","r":127000,"m":4500},{"d":"2022-02-23","r":118000,"m":4200},{"d":"2022-02-24","r":112000,"m":4000},{"d":"2022-02-25","r":108000,"m":3800},{"d":"2022-02-26","r":100000,"m":3500},{"d":"2022-02-27","r":95000,"m":3300},{"d":"2022-02-28","r":91000,"m":3200},
{"d":"2022-03-01","r":88000,"m":3000},{"d":"2022-03-02","r":80000,"m":2900},{"d":"2022-03-03","r":73000,"m":2800},{"d":"2022-03-04","r":67000,"m":2700},{"d":"2022-03-05","r":61000,"m":2600},{"d":"2022-03-06","r":57000,"m":2500},{"d":"2022-03-07","r":53000,"m":2400},{"d":"2022-03-08","r":50000,"m":2300},{"d":"2022-03-09","r":48000,"m":2200},{"d":"2022-03-10","r":46000,"m":2100},
{"d":"2022-03-11","r":44000,"m":2050},{"d":"2022-03-12","r":42000,"m":2000},{"d":"2022-03-13","r":40000,"m":1950},{"d":"2022-03-14","r":38500,"m":1900},{"d":"2022-03-15","r":37000,"m":1850},{"d":"2022-03-16","r":36000,"m":1800},{"d":"2022-03-17","r":35000,"m":1800},{"d":"2022-03-18","r":34000,"m":1750},{"d":"2022-03-19","r":33000,"m":1700},{"d":"2022-03-20","r":32000,"m":1650},
{"d":"2022-03-21","r":31000,"m":1600},{"d":"2022-03-22","r":30000,"m":1600},{"d":"2022-03-23","r":29000,"m":1550},{"d":"2022-03-24","r":27500,"m":1500},{"d":"2022-03-25","r":26000,"m":1500},{"d":"2022-03-26","r":25000,"m":1450},{"d":"2022-03-27","r":24000,"m":1400},{"d":"2022-03-28","r":23000,"m":1400},{"d":"2022-03-29","r":21500,"m":1350},{"d":"2022-03-30","r":20500,"m":1300},{"d":"2022-03-31","r":19500,"m":1300},
{"d":"2022-04-01","r":19000,"m":1250},{"d":"2022-04-02","r":18000,"m":1200},{"d":"2022-04-03","r":17000,"m":1200},{"d":"2022-04-04","r":16000,"m":1150},{"d":"2022-04-05","r":15000,"m":1100},{"d":"2022-04-06","r":14500,"m":1100},{"d":"2022-04-07","r":14000,"m":1050},{"d":"2022-04-08","r":13500,"m":1000},{"d":"2022-04-09","r":13000,"m":1000},{"d":"2022-04-10","r":12500,"m":950},
{"d":"2022-04-11","r":12000,"m":950},{"d":"2022-04-12","r":11500,"m":900},{"d":"2022-04-13","r":11000,"m":900},{"d":"2022-04-14","r":10800,"m":880},{"d":"2022-04-15","r":10500,"m":850},{"d":"2022-04-16","r":10200,"m":850},{"d":"2022-04-17","r":9900,"m":820},{"d":"2022-04-18","r":9600,"m":800},{"d":"2022-04-19","r":9300,"m":800},{"d":"2022-04-20","r":9000,"m":780},
{"d":"2022-04-21","r":8700,"m":760},{"d":"2022-04-22","r":8400,"m":750},{"d":"2022-04-23","r":8200,"m":740},{"d":"2022-04-24","r":7900,"m":730},{"d":"2022-04-25","r":7600,"m":720},{"d":"2022-04-26","r":7400,"m":700},{"d":"2022-04-27","r":7200,"m":700},{"d":"2022-04-28","r":7000,"m":690},{"d":"2022-04-29","r":6800,"m":680},{"d":"2022-04-30","r":6500,"m":670},
{"d":"2022-05-01","r":6300,"m":660},{"d":"2022-05-02","r":6100,"m":650},{"d":"2022-05-03","r":5900,"m":640},{"d":"2022-05-04","r":5700,"m":630},{"d":"2022-05-05","r":5600,"m":620},{"d":"2022-05-06","r":5400,"m":610},{"d":"2022-05-07","r":5300,"m":600},{"d":"2022-05-08","r":5100,"m":600},{"d":"2022-05-09","r":5000,"m":590},{"d":"2022-05-10","r":4900,"m":580},
{"d":"2022-05-11","r":4800,"m":580},{"d":"2022-05-12","r":4700,"m":570},{"d":"2022-05-13","r":4600,"m":560},{"d":"2022-05-14","r":4500,"m":560},{"d":"2022-05-15","r":4300,"m":550},{"d":"2022-05-16","r":4200,"m":550},{"d":"2022-05-17","r":4100,"m":540},{"d":"2022-05-18","r":4050,"m":540},{"d":"2022-05-19","r":4000,"m":530},{"d":"2022-05-20","r":4000,"m":530},
{"d":"2022-05-21","r":3950,"m":520},{"d":"2022-05-22","r":3900,"m":520},{"d":"2022-05-23","r":3900,"m":520},{"d":"2022-05-24","r":3900,"m":520},{"d":"2022-05-25","r":3900,"m":520},{"d":"2022-05-26","r":3850,"m":520},{"d":"2022-05-27","r":3800,"m":510},{"d":"2022-05-28","r":3750,"m":510},{"d":"2022-05-29","r":3700,"m":500},{"d":"2022-05-30","r":3700,"m":500},{"d":"2022-05-31","r":3700,"m":500},
{"d":"2022-06-01","r":3600,"m":520},{"d":"2022-06-02","r":3550,"m":540},{"d":"2022-06-03","r":3500,"m":560},{"d":"2022-06-04","r":3450,"m":580},{"d":"2022-06-05","r":3400,"m":600},{"d":"2022-06-06","r":3350,"m":620},{"d":"2022-06-07","r":3300,"m":640},{"d":"2022-06-08","r":3300,"m":660},{"d":"2022-06-09","r":3280,"m":680},{"d":"2022-06-10","r":3250,"m":700},
{"d":"2022-06-11","r":3230,"m":720},{"d":"2022-06-12","r":3200,"m":740},{"d":"2022-06-13","r":3180,"m":760},{"d":"2022-06-14","r":3150,"m":780},{"d":"2022-06-15","r":3150,"m":800},{"d":"2022-06-16","r":3130,"m":820},{"d":"2022-06-17","r":3120,"m":840},{"d":"2022-06-18","r":3100,"m":860},{"d":"2022-06-19","r":3100,"m":880},{"d":"2022-06-20","r":3100,"m":900},
{"d":"2022-06-21","r":3100,"m":920},{"d":"2022-06-22","r":3120,"m":940},{"d":"2022-06-23","r":3150,"m":960},{"d":"2022-06-24","r":3180,"m":980},{"d":"2022-06-25","r":3200,"m":1000},{"d":"2022-06-26","r":3230,"m":1020},{"d":"2022-06-27","r":3250,"m":1040},{"d":"2022-06-28","r":3300,"m":1060},{"d":"2022-06-29","r":3350,"m":1080},{"d":"2022-06-30","r":3400,"m":1100},
{"d":"2022-07-01","r":3450,"m":1120},{"d":"2022-07-02","r":3500,"m":1150},{"d":"2022-07-03","r":3550,"m":1180},{"d":"2022-07-04","r":3600,"m":1200},{"d":"2022-07-05","r":3700,"m":1250},{"d":"2022-07-06","r":3800,"m":1300},{"d":"2022-07-07","r":3900,"m":1350},{"d":"2022-07-08","r":4000,"m":1400},{"d":"2022-07-09","r":4200,"m":1450},{"d":"2022-07-10","r":4400,"m":1500},
{"d":"2022-07-11","r":4600,"m":1600},{"d":"2022-07-12","r":4800,"m":1700},{"d":"2022-07-13","r":5000,"m":1800},{"d":"2022-07-14","r":5200,"m":1900},{"d":"2022-07-15","r":5400,"m":2000},{"d":"2022-07-16","r":5700,"m":2100},{"d":"2022-07-17","r":6000,"m":2200},{"d":"2022-07-18","r":6300,"m":2300},{"d":"2022-07-19","r":6600,"m":2400},{"d":"2022-07-20","r":7000,"m":2500},
{"d":"2022-07-21","r":7400,"m":2600},{"d":"2022-07-22","r":7800,"m":2700},{"d":"2022-07-23","r":8200,"m":2800},{"d":"2022-07-24","r":8600,"m":2900},{"d":"2022-07-25","r":8000,"m":2700},{"d":"2022-07-26","r":9000,"m":3000},{"d":"2022-07-27","r":10500,"m":3300},{"d":"2022-07-28","r":12500,"m":3700},{"d":"2022-07-29","r":13000,"m":3900},{"d":"2022-07-30","r":12000,"m":3600},{"d":"2022-07-31","r":11500,"m":3500},
{"d":"2022-08-01","r":12500,"m":3800},{"d":"2022-08-02","r":13500,"m":4200},{"d":"2022-08-03","r":12000,"m":3900},{"d":"2022-08-04","r":11500,"m":3800},{"d":"2022-08-05","r":15500,"m":4800},{"d":"2022-08-06","r":17800,"m":5500},{"d":"2022-08-07","r":19974,"m":5997}
  ]},
  "encoding": {
    "x": {
      "field": "d",
      "type": "ordinal",
      "scale": {"paddingInner": 0.08, "paddingOuter": 1.75, "align": 1},
      "axis": {
        "values": ["2020-04-04","2020-04-14","2020-04-24","2020-05-04","2020-05-14","2020-05-24","2020-06-03","2020-06-13","2020-06-23","2020-07-03","2020-07-13","2020-07-23","2020-08-02","2020-08-12","2020-08-22","2020-09-01","2020-09-11","2020-09-21","2020-10-01","2020-10-11","2020-10-21","2020-10-31","2020-11-10","2020-11-20","2020-11-30","2020-12-10","2020-12-20","2020-12-30","2021-01-09","2021-01-19","2021-01-29","2021-02-08","2021-02-18","2021-02-28","2021-03-10","2021-03-20","2021-03-30","2021-04-09","2021-04-19","2021-04-29","2021-05-09","2021-05-19","2021-05-29","2021-06-08","2021-06-18","2021-06-28","2021-07-08","2021-07-18","2021-07-28","2021-08-07","2021-08-17","2021-08-27","2021-09-06","2021-09-16","2021-09-26","2021-10-06","2021-10-16","2021-10-26","2021-11-05","2021-11-15","2021-11-25","2021-12-05","2021-12-15","2021-12-25","2022-01-04","2022-01-14","2022-01-24","2022-02-03","2022-02-13","2022-02-23","2022-03-05","2022-03-15","2022-03-25","2022-04-04","2022-04-14","2022-04-24","2022-05-04","2022-05-14","2022-05-24","2022-06-03","2022-06-13","2022-06-23","2022-07-03","2022-07-13","2022-07-23","2022-08-02"],
        "labelExpr": "toNumber(substring(datum.value, 8, 10)) + ' ' + ['янв','фев','мар','апр','мая','июн','июл','авг','сен','окт','ноя','дек'][toNumber(substring(datum.value, 5, 7)) - 1]",
        "labelAngle": -90,
        "labelAlign": "right",
        "labelBaseline": "middle",
        "labelOverlap": false,
        "labelPadding": 6,
        "labelFont": "Liberation Sans",
        "labelFontSize": 13,
        "labelColor": "#222222",
        "ticks": false,
        "grid": false,
        "domainColor": "#333333",
        "domainWidth": 1,
        "title": "⬤ РИА НОВОСТИ",
        "titleAnchor": "end",
        "titleAlign": "right",
        "titleX": 1063,
        "titleFont": "Inter",
        "titleFontSize": 18,
        "titleFontWeight": "bold",
        "titleColor": "#2D5DA9",
        "titlePadding": 10
      }
    }
  },
  "layer": [
    {
      "mark": {"type": "bar"},
      "encoding": {
        "y": {
          "field": "r",
          "type": "quantitative",
          "scale": {"domain": [0, 250000], "nice": false},
          "axis": {
            "values": [0, 50000, 100000, 150000, 200000, 250000],
            "labelExpr": "format(datum.value / 1000, 'd') + 'K'",
            "title": null,
            "domain": false,
            "ticks": false,
            "gridColor": "#cccccc",
            "labelFont": "Liberation Sans",
            "labelFontSize": 13,
            "labelColor": "#222222",
            "labelPadding": 8
          }
        },
        "color": {
          "datum": "вся Россия (19 974)",
          "type": "nominal",
          "scale": {
            "domain": ["Москва (5 997)", "вся Россия (19 974)"],
            "range": ["#EA4335", "#4285F4"]
          },
          "legend": {
            "orient": "none",
            "legendX": 2,
            "legendY": 313,
            "direction": "horizontal",
            "title": null,
            "symbolType": "square",
            "symbolSize": 150,
            "symbolOpacity": 1,
            "symbolStrokeWidth": 0,
            "labelFont": "Liberation Sans",
            "labelFontSize": 13,
            "labelColor": "#333333",
            "columnPadding": 16,
            "labelOffset": 8
          }
        }
      }
    },
    {
      "mark": {"type": "bar", "width": {"band": 0.45}},
      "encoding": {
        "y": {"field": "m", "type": "quantitative"},
        "color": {"datum": "Москва (5 997)", "type": "nominal"}
      }
    }
  ],
  "config": {
    "view": {"stroke": null}
  }
}
